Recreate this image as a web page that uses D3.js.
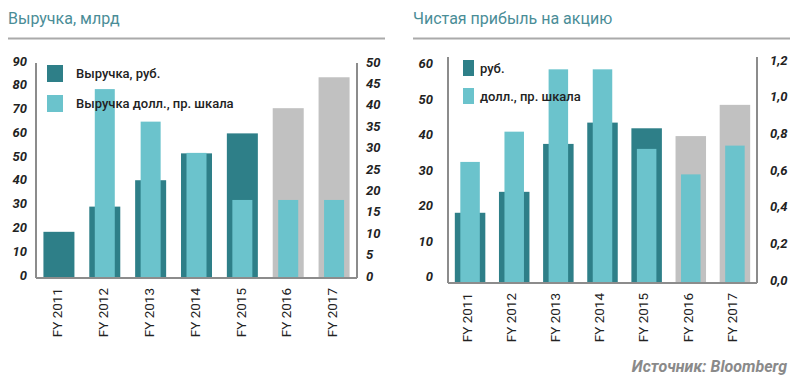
<!DOCTYPE html>
<head>
    <meta charset="utf-8">
    <style>
        body{ margin:0; background:#fff; }
        svg{ font-family: Roboto, 'Noto Sans', sans-serif; }
        .tick-label{ font-size:13px; font-weight:700; font-style:italic; fill:#222; }
        .x-label{ font-size:13.5px; fill:#222; }
        .title{ font-size:16px; fill:#4a8d97; }
        .legend{ font-size:13px; font-weight:500; fill:#222; }
    </style>
</head>
<body>
<script src="https://d3js.org/d3.v7.min.js"></script>
<script>

const width = 803;
const height = 387;

const years = ['FY 2011', 'FY 2012', 'FY 2013', 'FY 2014', 'FY 2015', 'FY 2016', 'FY 2017'];
const forecastYears = ['FY 2016', 'FY 2017'];

// revenue, bn
const revenueRub = [19, 29.6, 40.7, 52, 60.4, 71, 84];
const revenueUsd = [null, 43.9, 36.3, 29, 18, 18, 18];
const revenueLeftTicks = [0, 10, 20, 30, 40, 50, 60, 70, 80, 90];
const revenueRightTicks = [0, 5, 10, 15, 20, 25, 30, 35, 40, 45, 50];

// EPS
const epsRub = [19.5, 25.4, 38.9, 44.9, 43.3, 41.1, 49.9];
const epsUsd = [0.655, 0.82, 1.16, 1.16, 0.726, 0.587, 0.744];
const epsLeftTicks = [0, 10, 20, 30, 40, 50, 60];
const epsRightTicks = [0, 0.2, 0.4, 0.6, 0.8, 1.0, 1.2];

const darkColor = '#2e7f88';
const lightColor = '#6bc3cc';
const greyColor = '#c1c1c1';
const axisColor = '#8c8c8c';

const svg = d3.select('body').append('svg')
    .attr('width', width)
    .attr('height', height);

const drawPanel = (cfg) => {
    const g = svg.append('g');

    // title + rule
    g.append('text').attr('class', 'title')
        .attr('x', cfg.left0).attr('y', 24)
        .text(cfg.title);
    g.append('line')
        .attr('x1', cfg.left0).attr('x2', cfg.right0)
        .attr('y1', 38.5).attr('y2', 38.5)
        .style('stroke', '#aaa').style('stroke-width', 2);

    const x = d3.scaleBand().domain(years).range([cfg.axisL, cfg.axisR]);
    const yL = d3.scaleLinear().domain([0, cfg.leftMax]).range([cfg.base, cfg.leftTop]);
    const yR = d3.scaleLinear().domain([0, cfg.rightMax]).range([cfg.base, cfg.rightTop]);

    // rub bars
    g.selectAll('.rub').data(years).join('rect')
        .attr('x', d => x(d) + x.bandwidth() / 2 - cfg.wideW / 2)
        .attr('width', cfg.wideW)
        .attr('y', (d, i) => yL(cfg.rub[i]))
        .attr('height', (d, i) => cfg.base - yL(cfg.rub[i]))
        .style('fill', d => forecastYears.includes(d) ? greyColor : darkColor);

    // usd bars
    g.selectAll('.usd').data(years.filter((d, i) => cfg.usd[i] !== null)).join('rect')
        .attr('x', d => x(d) + x.bandwidth() / 2 - cfg.narrowW / 2)
        .attr('width', cfg.narrowW)
        .attr('y', d => yR(cfg.usd[years.indexOf(d)]))
        .attr('height', d => cfg.base - yR(cfg.usd[years.indexOf(d)]))
        .style('fill', lightColor);

    // axis lines
    [[cfg.axisL, cfg.axisL, cfg.axisTop, cfg.base + 1],
     [cfg.axisR, cfg.axisR, cfg.axisTop, cfg.base + 1],
     [cfg.axisL, cfg.axisR, cfg.base + 1, cfg.base + 1]].forEach(([x1, x2, y1, y2]) => {
        g.append('line')
            .attr('x1', x1).attr('x2', x2).attr('y1', y1).attr('y2', y2)
            .style('stroke', axisColor).style('stroke-width', 2);
    });

    // tick labels
    g.selectAll('.lt').data(cfg.leftTicks).join('text')
        .attr('class', 'tick-label')
        .attr('x', cfg.leftLabelX)
        .attr('y', d => yL(d) + cfg.leftDy)
        .attr('dy', '0.35em')
        .attr('text-anchor', 'end')
        .text(d => d);

    g.selectAll('.rt').data(cfg.rightTicks).join('text')
        .attr('class', 'tick-label')
        .attr('x', cfg.rightLabelX)
        .attr('y', d => yR(d) + cfg.rightDy)
        .attr('dy', '0.35em')
        .text(cfg.rightFormat);

    g.selectAll('.xl').data(years).join('text')
        .attr('class', 'x-label')
        .attr('transform', d => `translate(${x(d) + x.bandwidth() / 2 + cfg.xShift}, ${cfg.xLabelY}) rotate(-90)`)
        .attr('text-anchor', 'end')
        .attr('dy', '0.35em')
        .text(d => d);

    // legend
    cfg.legend.forEach((item, i) => {
        g.append('rect')
            .attr('x', item.x).attr('y', item.y)
            .attr('width', item.w).attr('height', item.h)
            .style('fill', item.color);
        g.append('text').attr('class', 'legend')
            .attr('x', item.tx).attr('y', item.y + item.h / 2)
            .attr('dy', '0.35em')
            .text(item.label);
    });
};

drawPanel({
    title: 'Выручка, млрд',
    left0: 8, right0: 385,
    axisL: 36, axisR: 357, axisTop: 63, base: 277,
    leftMax: 90, leftTop: 63, rightMax: 50, rightTop: 63,
    rub: revenueRub, usd: revenueUsd,
    wideW: 31, narrowW: 20,
    leftTicks: revenueLeftTicks, rightTicks: revenueRightTicks,
    leftLabelX: 27, rightLabelX: 366, leftDy: -2, rightDy: -1,
    rightFormat: d => d,
    xShift: -1.5, xLabelY: 288,
    legend: [
        {x: 47, y: 65, w: 16, h: 17, tx: 76, color: darkColor, label: 'Выручка, руб.'},
        {x: 47, y: 95, w: 16, h: 17, tx: 76, color: lightColor, label: 'Выручка долл., пр. шкала'}
    ]
});

drawPanel({
    title: 'Чистая прибыль на акцию',
    left0: 413, right0: 790,
    axisL: 448, axisR: 757, axisTop: 57, base: 282,
    leftMax: 60, leftTop: 69, rightMax: 1.2, rightTop: 62,
    rub: epsRub, usd: epsUsd,
    wideW: 30.5, narrowW: 19.5,
    leftTicks: epsLeftTicks, rightTicks: epsRightTicks,
    leftLabelX: 433, rightLabelX: 770, leftDy: -5.5, rightDy: -2,
    rightFormat: d => d3.format('.1f')(d).replace('.', ','),
    xShift: -3, xLabelY: 293,
    legend: [
        {x: 463, y: 60, w: 11, h: 16, tx: 480, color: darkColor, label: 'руб.'},
        {x: 463, y: 88, w: 11, h: 16, tx: 480, color: lightColor, label: 'долл., пр. шкала'}
    ]
});

svg.append('text')
    .attr('x', 787).attr('y', 372)
    .attr('text-anchor', 'end')
    .style('font-size', '16px').style('font-weight', 700).style('font-style', 'italic')
    .style('fill', '#8a8a8a')
    .text('Источник: Bloomberg');

</script>
</body>
</html>
